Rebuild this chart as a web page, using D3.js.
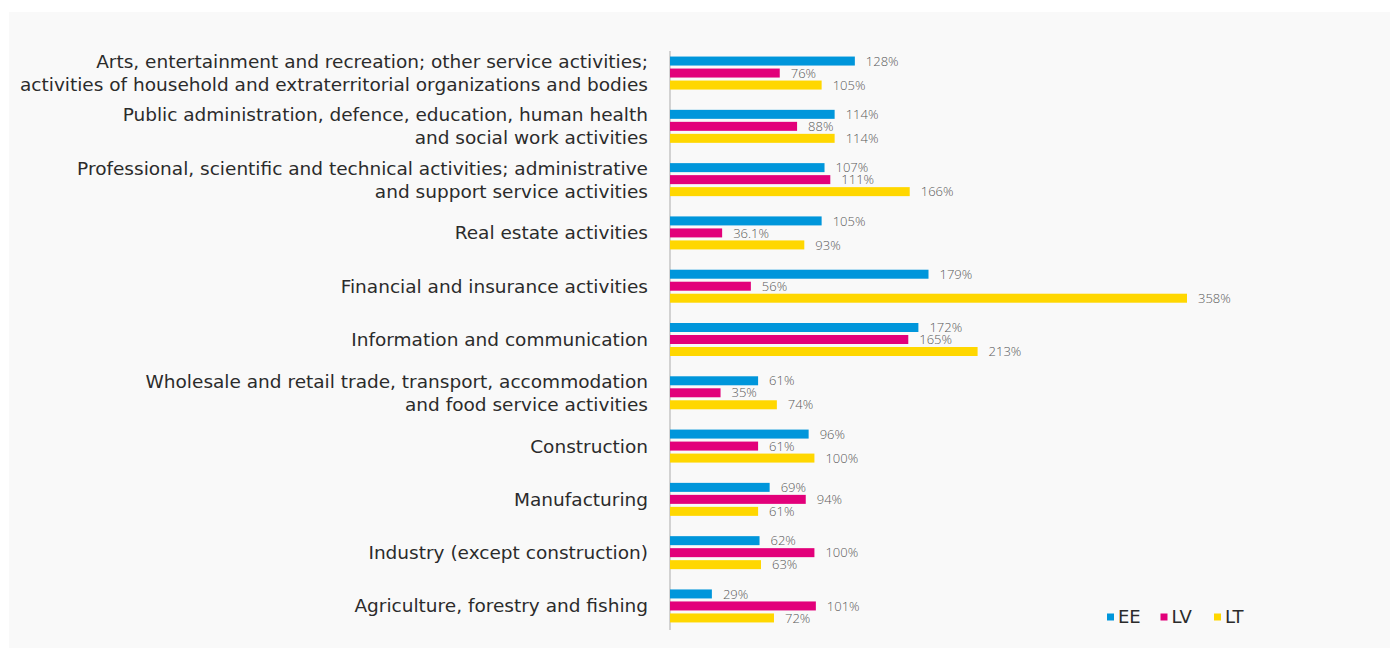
<!DOCTYPE html>
<html>
<head>
<meta charset="utf-8">
<script src="https://cdn.jsdelivr.net/npm/d3@7"></script>
<style>
  html, body { margin: 0; padding: 0; background: #ffffff; }
  svg { display: block; }
</style>
</head>
<body>
<svg id="chart" width="1397" height="650"></svg>
<script>
// Sector categories, top to bottom (line breaks mark wrapped labels)
const categories = [
  "Arts, entertainment and recreation; other service activities;\nactivities of household and extraterritorial organizations and bodies",
  "Public administration, defence, education, human health\nand social work activities",
  "Professional, scientific and technical activities; administrative\nand support service activities",
  "Real estate activities",
  "Financial and insurance activities",
  "Information and communication",
  "Wholesale and retail trade, transport, accommodation\nand food service activities",
  "Construction",
  "Manufacturing",
  "Industry (except construction)",
  "Agriculture, forestry and fishing"
];

const seriesNames = ["EE", "LV", "LT"];
const valuesEE = [128, 114, 107, 105, 179, 172, 61, 96, 69, 62, 29];
const valuesLV = [76, 88, 111, 36.1, 56, 165, 35, 61, 94, 100, 101];
const valuesLT = [105, 114, 166, 93, 358, 213, 74, 100, 61, 63, 72];
const seriesColors = ["#0096db", "#e2007a", "#ffd700"];

const series = [valuesEE, valuesLV, valuesLT];

const svg = d3.select("#chart");
const labelFont = "'DejaVu Sans', sans-serif";
const valueFont = "'Open Sans', sans-serif";

// Panel background
svg.append("rect")
  .attr("x", 9).attr("y", 12)
  .attr("width", 1381).attr("height", 636)
  .attr("fill", "#f9f9f9");

const x = d3.scaleLinear().domain([0, 358]).range([670, 1187]);
const y = d3.scaleBand().domain(categories).range([46.4, 632.6]).paddingInner(0).paddingOuter(0);
const inner = d3.scaleBand().domain(seriesNames).range([-18, 18]).paddingInner(0.25).paddingOuter(0.125);

// Vertical baseline
svg.append("line")
  .attr("x1", x(0)).attr("x2", x(0))
  .attr("y1", 51).attr("y2", 630)
  .attr("stroke", "#c4c4c4").attr("stroke-width", 1.5);

const groups = svg.selectAll("g.cat")
  .data(categories)
  .join("g")
  .attr("class", "cat")
  .attr("transform", d => `translate(0,${y(d) + y.bandwidth() / 2})`);

// Category labels
groups.append("text")
  .attr("x", 648)
  .attr("text-anchor", "end")
  .attr("font-family", labelFont)
  .attr("font-size", 18.5)
  .attr("fill", "#2b2b2b")
  .each(function (d) {
    const lines = d.split("\n");
    const t = d3.select(this);
    const lh = 23;
    lines.forEach((ln, i) => {
      t.append("tspan")
        .attr("x", 648)
        .attr("y", (i - (lines.length - 1) / 2) * lh)
        .attr("dy", "0.35em")
        .text(ln);
    });
  });

// Bars and value labels
seriesNames.forEach((name, si) => {
  groups.append("rect")
    .attr("x", x(0))
    .attr("y", inner(name))
    .attr("width", (d, i) => x(series[si][i]) - x(0))
    .attr("height", inner.bandwidth())
    .attr("fill", seriesColors[si]);

  groups.append("text")
    .attr("x", (d, i) => x(series[si][i]) + 11)
    .attr("y", inner(name) + inner.bandwidth() / 2)
    .attr("dy", "0.36em")
    .attr("font-family", valueFont)
    .attr("font-weight", 300)
    .attr("font-size", 13)
    .attr("fill", "#5a5a5a")
    .text((d, i) => series[si][i] + "%");
});

// Legend
const legendX = d3.scalePoint().domain(seriesNames).range([1107, 1214]);
const legend = svg.selectAll("g.leg")
  .data(seriesNames)
  .join("g")
  .attr("class", "leg")
  .attr("transform", d => `translate(${legendX(d)},617)`);
legend.append("rect")
  .attr("x", 0).attr("y", -3.5)
  .attr("width", 7).attr("height", 7)
  .attr("fill", (d, i) => seriesColors[i]);
legend.append("text")
  .attr("x", 11)
  .attr("dy", "0.35em")
  .attr("font-family", labelFont)
  .attr("font-size", 18)
  .attr("fill", "#2b2b2b")
  .text(d => d);
</script>
</body>
</html>
